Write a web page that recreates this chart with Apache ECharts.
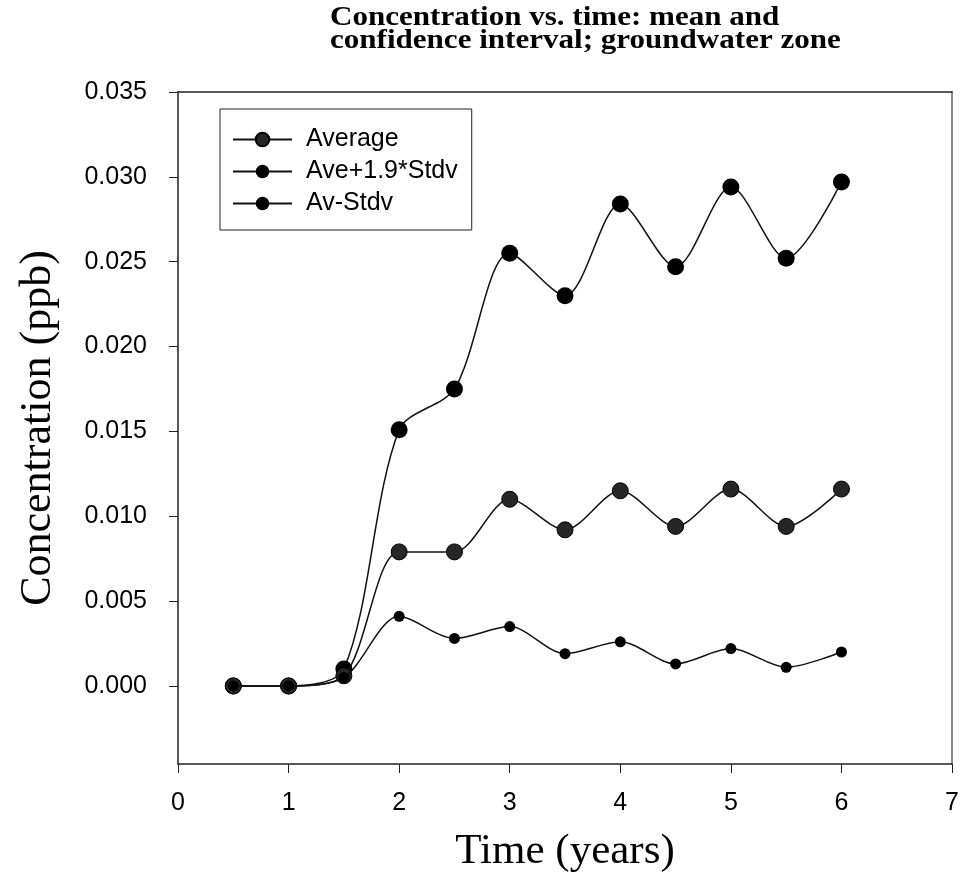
<!DOCTYPE html>
<html>
<head>
<meta charset="utf-8">
<script src="https://cdn.jsdelivr.net/npm/echarts@6/dist/echarts.min.js"></script>
<style>html,body{margin:0;padding:0;background:#fff;}#c{width:962px;height:887px;}</style>
</head>
<body>
<div id="c"></div>
<script>
const times = [0.5, 1, 1.5, 2, 2.5, 3, 3.5, 4, 4.5, 5, 5.5, 6];
const average = [0, 0, 0.0006, 0.0079, 0.0079, 0.0110, 0.0092, 0.0115, 0.0094, 0.0116, 0.0094, 0.0116];
const upper = [0, 0, 0.0010, 0.0151, 0.0175, 0.0255, 0.0230, 0.0284, 0.0247, 0.0294, 0.0252, 0.0297];
const lower = [0, 0, 0.0005, 0.0041, 0.0028, 0.0035, 0.0019, 0.0026, 0.0013, 0.0022, 0.0011, 0.0020];
const yTicks = [0, 0.005, 0.010, 0.015, 0.020, 0.025, 0.030, 0.035];
const xTicks = [0, 1, 2, 3, 4, 5, 6, 7];
const seriesNames = ['Average', 'Ave+1.9*Stdv', 'Av-Stdv'];
const titleText = 'Concentration vs. time: mean and\nconfidence interval; groundwater zone';

const pair = (vals) => times.map((t, i) => [t, vals[i]]);
const sans = 'Liberation Sans, Arial, sans-serif';
const serif = 'Liberation Serif, Times New Roman, serif';

const chart = echarts.init(document.getElementById('c'), null, {renderer: 'canvas'});
const lineStyle = {color: '#111', width: 1.5};
chart.setOption({
  animation: false,
  backgroundColor: '#fff',
  graphic: [{
    type: 'text', left: 330, top: 5, scaleX: 1.15, scaleY: 1,
    style: {text: titleText, font: 'bold 27px ' + serif, lineHeight: 23, fill: '#000', textAlign: 'left'}
  }],
  legend: {
    orient: 'vertical', left: 220, top: 109,
    data: seriesNames,
    itemWidth: 59, itemHeight: 17, itemGap: 7,
    padding: [18, 14, 14, 12],
    borderColor: '#222', borderWidth: 1,
    textStyle: {fontFamily: sans, fontSize: 25, color: '#000', lineHeight: 25, padding: [0, 0, 0, 9]}
  },
  grid: {left: 178, right: 5, top: 92, bottom: 123, containLabel: false},
  xAxis: [{
    type: 'value', min: 0, max: 7, interval: 1,
    name: 'Time (years)', nameLocation: 'middle', nameGap: 66,
    nameTextStyle: {fontFamily: serif, fontSize: 43, color: '#000'},
    axisLine: {show: true, onZero: false, lineStyle: {color: '#222', width: 1.5}},
    axisTick: {show: true, inside: false, length: 9, customValues: xTicks, lineStyle: {color: '#222'}},
    axisLabel: {margin: 27, fontFamily: sans, fontSize: 25, color: '#000', customValues: xTicks},
    splitLine: {show: false}
  }, {
    type: 'value', min: 0, max: 7, position: 'top',
    axisLine: {show: true, onZero: false, lineStyle: {color: '#222', width: 1.5}},
    axisTick: {show: false}, axisLabel: {show: false}, splitLine: {show: false}
  }],
  yAxis: [{
    type: 'value', min: -0.0046, max: 0.035,
    name: 'Concentration (ppb)', nameLocation: 'middle', nameGap: 118,
    nameTextStyle: {fontFamily: serif, fontSize: 44, color: '#000'},
    axisLine: {show: true, onZero: false, lineStyle: {color: '#222', width: 1.5}},
    axisTick: {show: true, inside: false, length: 9, customValues: yTicks, lineStyle: {color: '#222'}},
    axisLabel: {margin: 31, fontFamily: sans, fontSize: 25, color: '#000', customValues: yTicks,
      formatter: (v) => v.toFixed(3)},
    splitLine: {show: false}
  }, {
    type: 'value', min: -0.0046, max: 0.035, position: 'right',
    axisLine: {show: true, onZero: false, lineStyle: {color: '#666', width: 1.5}},
    axisTick: {show: false}, axisLabel: {show: false}, splitLine: {show: false}
  }],
  series: [
    {
      name: 'Ave+1.9*Stdv', type: 'line', smooth: 0.3, data: pair(upper),
      symbol: 'circle', symbolSize: 17,
      itemStyle: {color: '#000'}, lineStyle: lineStyle, z: 3
    },
    {
      name: 'Average', type: 'line', smooth: 0.3, data: pair(average),
      symbol: 'circle', symbolSize: 16,
      itemStyle: {color: '#262626', borderColor: '#000', borderWidth: 1}, lineStyle: lineStyle, z: 4
    },
    {
      name: 'Av-Stdv', type: 'line', smooth: 0.3, data: pair(lower),
      symbol: 'circle', symbolSize: 11,
      itemStyle: {color: '#000'}, lineStyle: lineStyle, z: 5
    }
  ]
});
</script>
</body>
</html>
